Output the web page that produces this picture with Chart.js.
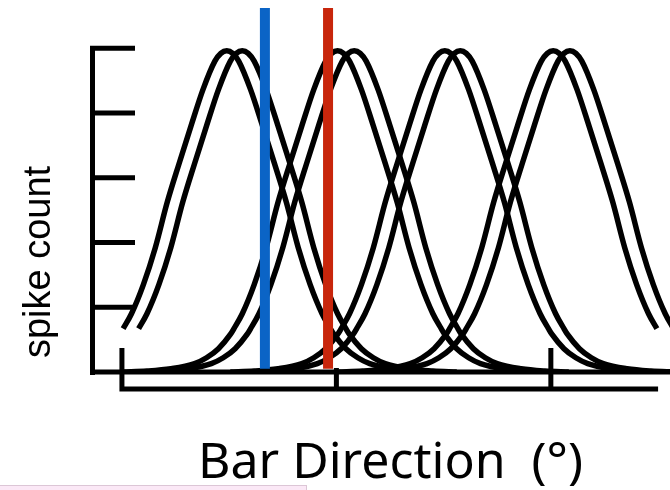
<!DOCTYPE html>
<html>
<head>
<meta charset="utf-8">
<script src="https://cdn.jsdelivr.net/npm/chart.js@4.4.1/dist/chart.umd.min.js"></script>
<style>
  html, body { margin: 0; padding: 0; background: #fff; }
  #wrap { width: 670px; height: 490px; }
</style>
</head>
<body>
<div id="wrap"><canvas id="tuningChart" width="670" height="490"></canvas></div>
<script>
// shape of one tuning curve:
// offset from the preferred direction (deg) -> spike count
const shapeOffsets = [-90, -80, -70, -60, -55, -50, -45, -43.5, -40, -35, -30, -25, -20, -15, -10, -5, -2.5, 0,
                      2.5, 5, 10, 15, 20, 25, 30, 35, 40, 43.5, 45, 50, 55, 60, 70, 80, 90];
const shapeCounts = [0, 0.015, 0.05, 0.13, 0.22, 0.36, 0.58, 0.67, 0.9, 1.35, 1.92, 2.62, 3.22, 3.8, 4.36, 4.8, 4.92, 4.96,
                     4.92, 4.8, 4.36, 3.8, 3.22, 2.62, 1.92, 1.35, 0.9, 0.67, 0.58, 0.36, 0.22, 0.13, 0.05, 0.015, 0];

// preferred direction of each of the 8 cells (deg)
const preferredDirs = [44, 50.5, 90.5, 97.5, 135.5, 142, 181, 188];
// part of each curve that is drawn (offset range, deg)
const curveFrom = [-43.5, -43.5, -90, -90, -90, -90, -90, -90];
const curveTo = [90, 90, 90, 90, 90, 90, 43.5, 43.5];

// the two bar directions marked by the coloured lines (deg)
const stimDirs = [60, 86.5];

const yTicks = [1, 2, 3, 4, 5];
const xTicks = [0, 90, 180];
const xAxisEnd = 225;

const yTitle = 'spike count';
const xTitle = 'Bar Direction  (°)';

function curvePoints(i) {
    const pts = [];
    shapeOffsets.forEach((off, k) => {
        if (off >= curveFrom[i] && off <= curveTo[i]) {
            pts.push({ x: preferredDirs[i] + off, y: shapeCounts[k] });
        }
    });
    return pts;
}

const datasets = [];

// coloured stimulus lines first so they end up on top
const stimColors = ['#0b64c6', '#c8260c'];
stimDirs.forEach((d, i) => {
    datasets.push({
        data: [{ x: d, y: 0.05 }, { x: d, y: 5.62 }],
        borderColor: stimColors[i],
        borderWidth: 10,
        borderCapStyle: 'butt',
        pointRadius: 0,
        order: 0
    });
});

preferredDirs.forEach((p, i) => {
    datasets.push({
        data: curvePoints(i),
        borderColor: '#000',
        borderWidth: 5.5,
        borderCapStyle: 'butt',
        borderJoinStyle: 'round',
        cubicInterpolationMode: 'monotone',
        pointRadius: 0,
        order: 1
    });
});

// axes are drawn by hand: y ticks point inward, and there is a second x axis below
const handAxes = {
    id: 'handAxes',
    beforeDatasetsDraw(chart) {
        const { ctx, chartArea, scales: { x, y } } = chart;
        const y0 = y.getPixelForValue(0);
        const ax = chartArea.left + 2.5;
        ctx.save();
        ctx.strokeStyle = '#000';
        ctx.lineWidth = 5;
        ctx.lineCap = 'butt';

        ctx.beginPath();
        ctx.moveTo(ax, y.getPixelForValue(5) - 2.5);
        ctx.lineTo(ax, y0 + 3);
        yTicks.forEach(v => {
            const py = y.getPixelForValue(v);
            ctx.moveTo(chartArea.left, py);
            ctx.lineTo(chartArea.left + 45, py);
        });
        ctx.moveTo(chartArea.left, y0);
        ctx.lineTo(chartArea.right, y0);
        ctx.stroke();

        const yl = y0 + 17;
        ctx.beginPath();
        ctx.moveTo(x.getPixelForValue(xTicks[0]) - 2.5, yl);
        ctx.lineTo(x.getPixelForValue(xAxisEnd), yl);
        xTicks.forEach((v, i) => {
            const px = x.getPixelForValue(v);
            ctx.moveTo(px, yl + 2.5);
            ctx.lineTo(px, yl - (i === 1 ? 21 : 41));
        });
        ctx.stroke();
        ctx.restore();
    },
    afterDraw(chart) {
        const { ctx } = chart;
        ctx.save();
        ctx.fillStyle = '#000';

        ctx.font = '38px "Liberation Sans", Arial, sans-serif';
        ctx.translate(50, 262);
        ctx.rotate(-Math.PI / 2);
        ctx.textAlign = 'center';
        ctx.textBaseline = 'alphabetic';
        ctx.fillText(yTitle, 0, 0);
        ctx.setTransform(1, 0, 0, 1, 0, 0);

        ctx.font = '50px "Noto Sans", sans-serif';
        ctx.textAlign = 'left';
        ctx.fillText(xTitle, 198, 478);

        // pale pink box peeking in at the bottom left
        ctx.fillStyle = '#fbe8f6';
        ctx.fillRect(0, 485, 307, 6);
        ctx.strokeStyle = '#dcc6d6';
        ctx.lineWidth = 1;
        ctx.strokeRect(-1, 485.5, 307.5, 10);
        ctx.restore();
    }
};

new Chart(document.getElementById('tuningChart'), {
    type: 'line',
    data: { datasets },
    options: {
        responsive: false,
        animation: false,
        devicePixelRatio: 1,
        layout: { padding: { left: 90, right: 0, top: 8, bottom: 118 } },
        plugins: { legend: { display: false }, tooltip: { enabled: false }, title: { display: false } },
        scales: {
            x: { type: 'linear', min: -13.4, max: 230, display: false },
            y: { type: 'linear', min: 0, max: 5.62, display: false }
        }
    },
    plugins: [handAxes]
});
</script>
</body>
</html>
